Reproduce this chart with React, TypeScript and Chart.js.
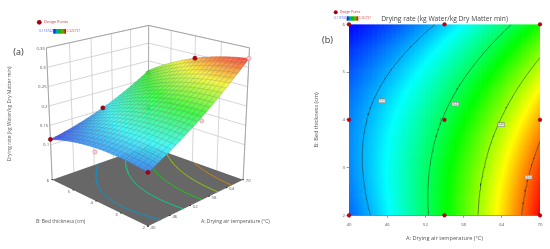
import React, { useEffect, useRef } from "react";
import { Chart, registerables } from "chart.js";

Chart.register(...registerables);

const tempNodes = [40, 42.5, 45, 47.5, 50, 52.5, 55, 57.5, 60, 62.5, 65, 67.5, 70];
const bedNodes = [2, 3, 4, 5, 6];
const rateBed2 = [0.134, 0.14575, 0.15823, 0.17142, 0.18534, 0.19998, 0.21535, 0.23144, 0.24824, 0.26578, 0.28403, 0.30301, 0.3227];
const rateBed3 = [0.14141, 0.15151, 0.16233, 0.17387, 0.18614, 0.19913, 0.21284, 0.22727, 0.24242, 0.25831, 0.27491, 0.29223, 0.31027];
const rateBed4 = [0.1405, 0.14895, 0.15811, 0.168, 0.17861, 0.18994, 0.202, 0.21478, 0.22827, 0.2425, 0.25745, 0.27311, 0.2895];
const rateBed5 = [0.13126, 0.13805, 0.14557, 0.1538, 0.16275, 0.17244, 0.18284, 0.19396, 0.20581, 0.21838, 0.23167, 0.24569, 0.26042];
const rateBed6 = [0.1137, 0.11884, 0.1247, 0.13127, 0.13857, 0.1466, 0.15535, 0.16482, 0.17501, 0.18592, 0.19756, 0.20992, 0.223];
const rateRows = [rateBed2, rateBed3, rateBed4, rateBed5, rateBed6];

const tempTicks = [40, 46, 52, 58, 64, 70];
const bedTicks = [2, 3, 4, 5, 6];
const rateTicks = [0.1, 0.15, 0.2, 0.25, 0.3, 0.35];
const floorLevels = [0.15, 0.185, 0.22, 0.255, 0.29];
const planLevels = [0.15, 0.2, 0.25, 0.3];
const planLabelTemps = [45.2, 56.7, 63.9, 68.2];
const planLabelBeds = [4.4, 4.33, 3.9, 2.8];
const designTop = [
  { a: 40, b: 2, z: 0.134 },
  { a: 40, b: 6, z: 0.1137 },
  { a: 55, b: 6, z: 0.155 },
  { a: 70, b: 4, z: 0.2895 },
];
const designPale = [
  { a: 40, b: 4, z: 0.13 },
  { a: 55, b: 2, z: 0.206 },
  { a: 70, b: 2, z: 0.3227 },
];
const designHidden = [
  { a: 55, b: 4, z: 0.195 },
  { a: 70, b: 6, z: 0.216 },
];
const designPlan = [
  { x: 40, y: 2 }, { x: 55, y: 2 }, { x: 70, y: 2 },
  { x: 40, y: 4 }, { x: 55, y: 4 }, { x: 70, y: 4 },
  { x: 40, y: 6 }, { x: 55, y: 6 }, { x: 70, y: 6 },
];
const rateMin = 0.113742;
const rateMax = 0.322737;
const minLabel = "0.113742";
const maxLabel = "0.322737";
const yName = "Drying rate (kg Water/kg Dry Matter min)";
const aName = "A: Drying air temperature (°C)";
const bName = "B: Bed thickness (cm)";

const FONT = '"Open Sans", "Noto Sans", sans-serif';

function cr(p0: number, p1: number, p2: number, p3: number, t: number) {
  return 0.5 * (2 * p1 + (p2 - p0) * t + (2 * p0 - 5 * p1 + 4 * p2 - p3) * t * t + (3 * p1 - p0 - 3 * p2 + p3) * t * t * t);
}
function sample(arr: number[], f: number) {
  const n = arr.length;
  const i = Math.max(0, Math.min(n - 2, Math.floor(f)));
  const t = f - i;
  const at = (k: number) => (k < 0 ? 3 * arr[0] - 3 * arr[1] + arr[2] : k >= n ? 3 * arr[n - 1] - 3 * arr[n - 2] + arr[n - 3] : arr[k]);
  return cr(at(i - 1), at(i), at(i + 1), at(i + 2), t);
}
function rateAt(a: number, b: number) {
  const fa = ((a - tempNodes[0]) / (tempNodes[12] - tempNodes[0])) * 12;
  const col = rateRows.map((r) => sample(r, fa));
  return sample(col, ((b - bedNodes[0]) / (bedNodes[4] - bedNodes[0])) * 4);
}
const stops: number[][] = [[0, 0, 255], [0, 255, 255], [0, 255, 0], [255, 255, 0], [255, 0, 0]];
function ramp(z: number) {
  const t = Math.max(0, Math.min(0.9999, (z - rateMin) / (rateMax - rateMin))) * 4;
  const i = Math.floor(t);
  const f = t - i;
  return stops[i].map((c, k) => c + (stops[i + 1][k] - c) * f);
}
function css(c: number[], mixWhite = 0, mul = 1) {
  const v = c.map((x) => Math.round((x * (1 - mixWhite) + 255 * mixWhite) * mul));
  return `rgb(${v[0]},${v[1]},${v[2]})`;
}

function homography(q: number[][]) {
  const [p00, p10, p11, p01] = q;
  const dx1 = p10[0] - p11[0], dx2 = p01[0] - p11[0], sx = p00[0] - p10[0] + p11[0] - p01[0];
  const dy1 = p10[1] - p11[1], dy2 = p01[1] - p11[1], sy = p00[1] - p10[1] + p11[1] - p01[1];
  const den = dx1 * dy2 - dx2 * dy1;
  const g = (sx * dy2 - dx2 * sy) / den, h = (dx1 * sy - sx * dy1) / den;
  const a = p10[0] - p00[0] + g * p10[0], b = p01[0] - p00[0] + h * p01[0];
  const d = p10[1] - p00[1] + g * p10[1], e = p01[1] - p00[1] + h * p01[1];
  return (u: number, v: number) => {
    const w = g * u + h * v + 1;
    return [(a * u + b * v + p00[0]) / w, (d * u + e * v + p00[1]) / w];
  };
}
// View of the 3D box: plane positions of its floor and ceiling corners.
const floorView = homography([[148.3, 230], [246.7, 181.7], [148.7, 146.7], [49.3, 181.7]]);
const topView = homography([[148.3, 77], [253.3, 45], [149, 21.7], [43.3, 45]]);
const zFloor = 0.01, zTop = 0.35;
function project(a: number, b: number, z: number) {
  const u = (a - 40) / 30, v = (b - 2) / 4;
  const F = floorView(u, v), T = topView(u, v);
  const t = (z - zFloor) / (zTop - zFloor);
  return { x: F[0] + (T[0] - F[0]) * t, y: F[1] + (T[1] - F[1]) * t };
}

function contourSegments(level: number, nx = 60, ny = 40) {
  const segs: { a: number; b: number }[][] = [];
  const da = 30 / nx, db = 4 / ny;
  const lerp = (p: number[], q: number[], zp: number, zq: number) => {
    const t = (level - zp) / (zq - zp);
    return { a: p[0] + (q[0] - p[0]) * t, b: p[1] + (q[1] - p[1]) * t };
  };
  for (let i = 0; i < nx; i++)
    for (let j = 0; j < ny; j++) {
      const c = [[40 + i * da, 2 + j * db], [40 + (i + 1) * da, 2 + j * db], [40 + (i + 1) * da, 2 + (j + 1) * db], [40 + i * da, 2 + (j + 1) * db]];
      const z = c.map((p) => rateAt(p[0], p[1]));
      const pts: { a: number; b: number }[] = [];
      for (let k = 0; k < 4; k++) {
        const m = (k + 1) % 4;
        if (z[k] < level !== z[m] < level) pts.push(lerp(c[k], c[m], z[k], z[m]));
      }
      if (pts.length >= 2) segs.push([pts[0], pts[1]]);
    }
  return segs;
}
function toBroken(segs: { a: number; b: number }[][], map: (a: number, b: number) => { x: number; y: number }) {
  const out: { x: number; y: number }[] = [];
  segs.forEach((s) => {
    out.push(map(s[0].a, s[0].b), map(s[1].a, s[1].b), { x: NaN, y: NaN });
  });
  return out;
}

function txt(ctx: CanvasRenderingContext2D, s: string, x: number, y: number, size: number, color: string, align: CanvasTextAlign = "left", rot = 0) {
  ctx.save();
  ctx.translate(x, y);
  if (rot) ctx.rotate(rot);
  ctx.font = `${size}px ${FONT}`;
  ctx.fillStyle = color;
  ctx.textAlign = align;
  ctx.textBaseline = "middle";
  ctx.fillText(s, 0, 0);
  ctx.restore();
}
function legend(ctx: CanvasRenderingContext2D, mx: number, my: number, r: number, tx: number, fs: number, bx0: number, bx1: number, by0: number, by1: number, ls: number) {
  ctx.beginPath();
  ctx.arc(mx, my, r, 0, Math.PI * 2);
  ctx.fillStyle = "#a80010";
  ctx.fill();
  txt(ctx, "Design Points", tx, my, fs, "#c8303a");
  const g = ctx.createLinearGradient(bx0, 0, bx1, 0);
  ["#0000e0", "#00a0c0", "#00c000", "#80a000", "#e00000"].forEach((c, i) => g.addColorStop(i / 4, c));
  ctx.fillStyle = g;
  ctx.fillRect(bx0, by0, bx1 - bx0, by1 - by0);
  txt(ctx, minLabel, bx0 - 0.5, (by0 + by1) / 2, ls, "#4a5cf0", "right");
  txt(ctx, maxLabel, bx1 + 0.5, (by0 + by1) / 2, ls, "#e04848");
}

const boxPlugin = {
  id: "box3d",
  beforeDatasetsDraw(chart: any) {
    const { ctx, scales } = chart;
    const X = (p: { x: number; y: number }) => scales.x.getPixelForValue(p.x);
    const Y = (p: { x: number; y: number }) => scales.y.getPixelForValue(p.y);
    const line = (ps: { x: number; y: number }[], color: string, w: number) => {
      ctx.beginPath();
      ps.forEach((p, i) => (i ? ctx.lineTo(X(p), Y(p)) : ctx.moveTo(X(p), Y(p))));
      ctx.strokeStyle = color;
      ctx.lineWidth = w;
      ctx.stroke();
    };
    // walls
    const wall = "#c4c4c4";
    rateTicks.forEach((z) => {
      line([project(40, 6, z), project(70, 6, z), project(70, 2, z)], wall, 0.7);
    });
    tempTicks.forEach((a) => line([project(a, 6, zFloor), project(a, 6, zTop)], wall, 0.7));
    bedTicks.forEach((b) => line([project(70, b, zFloor), project(70, b, zTop)], wall, 0.7));
    line([project(40, 6, zFloor), project(40, 6, zTop)], "#999", 0.8);
    line([project(70, 2, zFloor), project(70, 2, zTop)], "#999", 0.8);
    line([project(70, 6, zFloor), project(70, 6, zTop)], "#aaa", 0.8);
    line([project(40, 6, zTop), project(70, 6, zTop), project(70, 2, zTop)], "#999", 0.8);
    // floor
    const fc = [project(40, 2, zFloor), project(70, 2, zFloor), project(70, 6, zFloor), project(40, 6, zFloor)];
    ctx.beginPath();
    fc.forEach((p, i) => (i ? ctx.lineTo(X(p), Y(p)) : ctx.moveTo(X(p), Y(p))));
    ctx.closePath();
    ctx.fillStyle = "#676767";
    ctx.fill();
    // labels
    rateTicks.forEach((z) => {
      const p = project(40, 6, z);
      txt(ctx, String(z), X(p) - 1.5, Y(p) + 0.5, 4.3, "#555", "right");
    });
    bedTicks.forEach((b) => {
      const p = project(40, b, zFloor);
      ctx.fillStyle = "#222";
      ctx.fillRect(X(p) - 0.7, Y(p) - 0.5, 1.4, 1);
      txt(ctx, String(b), X(p) - 4.3, Y(p) + 1.5, 4.3, "#555", "center");
    });
    tempTicks.forEach((a) => {
      const p = project(a, 2, zFloor);
      ctx.fillStyle = "#222";
      ctx.fillRect(X(p) - 0.7, Y(p) - 0.5, 1.4, 1);
      txt(ctx, String(a), X(p) + 5, Y(p) + 1.5, 4.3, "#555", "center");
    });
    txt(ctx, bName, 36, 221.7, 5, "#555");
    txt(ctx, aName, 201, 221.3, 5, "#555");
    txt(ctx, yName, 9.5, 114, 5, "#555", "center", -Math.PI / 2);
    txt(ctx, "(a)", 18.5, 52.5, 9, "#333", "center");
    legend(ctx, 39.3, 22.3, 2.4, 44, 3.8, 53.3, 66, 29, 33.7, 3.2);
  },
  beforeDatasetDraw(chart: any, args: any) {
    if (chart.data.datasets[args.index].label !== "surface") return;
    const { ctx, scales } = chart;
    const P = (a: number, b: number) => {
      const p = project(a, b, rateAt(a, b));
      return [scales.x.getPixelForValue(p.x), scales.y.getPixelForValue(p.y)];
    };
    const N = 24, sub = 2, da = 30 / N, db = 4 / N;
    const quad = (pp: number[][]) => {
      ctx.beginPath();
      pp.forEach((p, i) => (i ? ctx.lineTo(p[0], p[1]) : ctx.moveTo(p[0], p[1])));
      ctx.closePath();
    };
    for (let i = N - 1; i >= 0; i--)
      for (let j = N - 1; j >= 0; j--) {
        const a0 = 40 + i * da, b0 = 2 + j * db;
        for (let si = sub - 1; si >= 0; si--)
          for (let sj = sub - 1; sj >= 0; sj--) {
            const a = a0 + (si * da) / sub, b = b0 + (sj * db) / sub, sa = da / sub, sb = db / sub;
            quad([P(a, b), P(a + sa, b), P(a + sa, b + sb), P(a, b + sb)]);
            const c = css(ramp(rateAt(a + sa / 2, b + sb / 2)), 0.27, 0.96);
            ctx.fillStyle = c;
            ctx.strokeStyle = c;
            ctx.lineWidth = 0.3;
            ctx.fill();
            ctx.stroke();
          }
        const e: number[][] = [];
        for (let k = 0; k <= sub; k++) e.push(P(a0 + (k * da) / sub, b0));
        for (let k = 1; k <= sub; k++) e.push(P(a0 + da, b0 + (k * db) / sub));
        for (let k = 1; k <= sub; k++) e.push(P(a0 + da - (k * da) / sub, b0 + db));
        for (let k = 1; k <= sub; k++) e.push(P(a0, b0 + db - (k * db) / sub));
        quad(e);
        ctx.strokeStyle = "rgba(70,70,70,0.36)";
        ctx.lineWidth = 0.4;
        ctx.stroke();
      }
  },
};

const planPlugin = {
  id: "plan",
  beforeDatasetsDraw(chart: any) {
    const { ctx, scales, chartArea } = chart;
    const nx = 150, ny = 100;
    const X = scales.x, Y = scales.y;
    ctx.save();
    ctx.beginPath();
    ctx.rect(chartArea.left, chartArea.top, chartArea.width, chartArea.height);
    ctx.clip();
    for (let i = 0; i < nx; i++)
      for (let j = 0; j < ny; j++) {
        const a0 = 40 + (30 * i) / nx, a1 = 40 + (30 * (i + 1)) / nx;
        const b0 = 2 + (4 * j) / ny, b1 = 2 + (4 * (j + 1)) / ny;
        ctx.fillStyle = css(ramp(rateAt((a0 + a1) / 2, (b0 + b1) / 2)));
        const px = X.getPixelForValue(a0), py = Y.getPixelForValue(b1);
        ctx.fillRect(px, py, X.getPixelForValue(a1) - px + 0.6, Y.getPixelForValue(b0) - py + 0.6);
      }
    ctx.restore();
    legend(ctx, 60.7, 12.3, 2, 65, 3.2, 71.7, 83.3, 16.3, 20.7, 2.8);
    txt(ctx, "(b)", 52.5, 40, 9, "#333", "center");
  },
  afterDatasetsDraw(chart: any) {
    const { ctx, scales } = chart;
    planLabelTemps.forEach((a, i) => {
      const x = scales.x.getPixelForValue(a), y = scales.y.getPixelForValue(planLabelBeds[i]);
      ctx.fillStyle = "#8a8a8a";
      ctx.fillRect(x - 3.7, y - 2.2, 7.4, 4.4);
      ctx.fillStyle = "#e8e8e8";
      ctx.fillRect(x - 3.1, y - 1.6, 6.2, 3.2);
      txt(ctx, String(planLevels[i]), x, y, 2.6, "#666", "center");
    });
    const x = scales.x.getPixelForValue(55), y = scales.y.getPixelForValue(4);
    txt(ctx, "5", x - 4, y, 3, "#666", "center");
  },
};

function pointSet(label: string, rows: { a: number; b: number; z: number }[], fill: string, border: string, order: number) {
  return {
    type: "scatter" as const,
    label,
    data: rows.map((r) => project(r.a, r.b, r.z)),
    backgroundColor: fill,
    borderColor: border,
    borderWidth: 0.5,
    pointRadius: 2.1,
    order,
  };
}

export default function App() {
  const leftRef = useRef<HTMLCanvasElement>(null);
  const rightRef = useRef<HTMLCanvasElement>(null);
  useEffect(() => {
    const left = new Chart(leftRef.current!, {
      type: "scatter",
      data: {
        datasets: [
          pointSet("Design points above", designTop, "#ad0010", "#7a0010", 0),
          pointSet("Design points below", designPale, "#f6cfd0", "#c87a80", 1),
          { type: "scatter", label: "surface", data: [], order: 2 } as any,
          pointSet("Design points hidden", designHidden, "#ad0010", "#7a0010", 3),
          ...floorLevels.map((lv, i) => ({
            type: "line" as const,
            label: `floor ${lv}`,
            data: toBroken(contourSegments(lv), (a, b) => project(a, b, zFloor)),
            borderColor: css(ramp(lv), 0.08, 0.8),
            borderWidth: 1,
            pointRadius: 0,
            spanGaps: false,
            order: 4 + i,
          })),
        ],
      },
      options: {
        animation: false,
        responsive: false,
        layout: { padding: 0 },
        plugins: { legend: { display: false }, tooltip: { enabled: false } },
        scales: {
          x: { type: "linear", min: 0, max: 275, display: false },
          y: { type: "linear", min: 0, max: 249, reverse: true, display: false },
        },
      },
      plugins: [boxPlugin],
    } as any);

    const axisBase = {
      type: "linear",
      border: { display: true, color: "#666", width: 0.8 },
      grid: { drawOnChartArea: false, drawTicks: true, tickLength: 2.5, color: "#555", lineWidth: 0.6 },
    };
    const right = new Chart(rightRef.current!, {
      type: "scatter",
      data: {
        datasets: [
          {
            type: "scatter",
            label: "Design Points",
            data: designPlan,
            backgroundColor: "#c00010",
            borderColor: "#8a0010",
            borderWidth: 0.4,
            pointRadius: 1.9,
            clip: false,
            order: 0,
          },
          ...planLevels.map((lv, i) => ({
            type: "line" as const,
            label: `contour ${lv}`,
            data: toBroken(contourSegments(lv, 90, 60), (a, b) => ({ x: a, y: b })),
            borderColor: "rgba(30,50,40,0.85)",
            borderWidth: 0.6,
            pointRadius: 0,
            spanGaps: false,
            order: 1 + i,
          })),
        ],
      },
      options: {
        animation: false,
        responsive: false,
        layout: { padding: { left: 38, right: 10, top: 0, bottom: 7 } },
        plugins: {
          legend: { display: false },
          tooltip: { enabled: false },
          title: {
            display: true,
            fullSize: false,
            text: yName,
            color: "#444",
            font: { family: FONT, size: 6.7, weight: "normal" },
            padding: { top: 15.2, bottom: 1.1 },
          },
        },
        scales: {
          x: {
            ...axisBase,
            min: 40,
            max: 70,
            afterBuildTicks: (s: any) => { s.ticks = tempTicks.map((v) => ({ value: v })); },
            afterFit: (s: any) => { s.height = 26.7; },
            ticks: { color: "#555", font: { family: FONT, size: 4.3 }, padding: 4.5, autoSkip: false, maxRotation: 0 },
            title: { display: true, text: aName, color: "#555", font: { family: FONT, size: 5.6 }, padding: 0 },
          },
          y: {
            ...axisBase,
            min: 2,
            max: 6,
            afterBuildTicks: (s: any) => { s.ticks = bedTicks.map((v) => ({ value: v })); },
            afterFit: (s: any) => { s.width = 36; },
            ticks: { color: "#555", font: { family: FONT, size: 4.3 }, padding: 1.5, autoSkip: false },
            title: { display: true, text: bName, color: "#555", font: { family: FONT, size: 5.6 }, padding: 0 },
          },
        },
      },
      plugins: [planPlugin],
    } as any);
    return () => {
      left.destroy();
      right.destroy();
    };
  }, []);
  const base: React.CSSProperties = { position: "absolute", top: 0, display: "block", filter: "blur(0.35px)" };
  return (
    <div style={{ position: "fixed", left: 0, top: 0, width: 550, height: 249, background: "#fff", overflow: "hidden" }}>
      <canvas ref={leftRef} width={275} height={249} style={{ ...base, left: 0, width: 275, height: 249 }} />
      <canvas ref={rightRef} width={275} height={249} style={{ ...base, left: 275, width: 275, height: 249 }} />
    </div>
  );
}
